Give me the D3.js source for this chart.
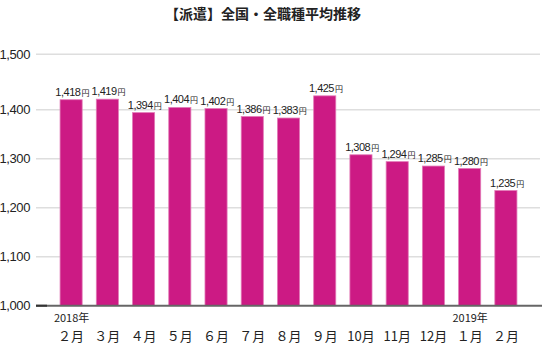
<!DOCTYPE html>
<html>
<head>
<meta charset="utf-8">
<script src="https://cdn.jsdelivr.net/npm/d3@7"></script>
<style>
  body { margin: 0; background: #fff; }
  text { font-family: "Liberation Sans", Arial, sans-serif; fill: #222; }
  .jp { font-family: "Noto Sans CJK JP", sans-serif; }
</style>
</head>
<body>
<div class="chart"></div>
<script>
// 【派遣】全国・全職種平均推移
var width = 542;
var height = 352;

var months = ['２月', '３月', '４月', '５月', '６月', '７月', '８月', '９月', '10月', '11月', '12月', '１月', '２月'];
var years = ['2018年', '', '', '', '', '', '', '', '', '', '', '2019年', ''];
var values = [1418, 1419, 1394, 1404, 1402, 1386, 1383, 1425, 1308, 1294, 1285, 1280, 1235];
var yTicks = [1000, 1100, 1200, 1300, 1400, 1500];

var data = months.map((m, i) => ({month: m, year: years[i], value: values[i], key: i}));

var x = d3.scaleBand()
  .domain(data.map(d => d.key))
  .range([53, 524])
  .paddingInner(0.39)
  .paddingOuter(0.195);

// top step of the axis is drawn a little taller than the others
var y = d3.scaleLinear()
  .domain([1000, 1400, 1500])
  .range([305.7, 109.7, 54.3]);

var svg = d3.select('.chart').append('svg')
  .attr('width', width)
  .attr('height', height);

svg.append('text')
  .attr('class', 'jp')
  .attr('x', 263)
  .attr('y', 19)
  .attr('text-anchor', 'middle')
  .style('font-size', '14px')
  .style('font-weight', 'bold')
  .text('【派遣】全国・全職種平均推移');

// grid
svg.append('g')
  .selectAll('line')
  .data(yTicks.slice(1))
  .enter().append('line')
  .attr('x1', 36)
  .attr('x2', 540)
  .attr('y1', d => y(d))
  .attr('y2', d => y(d))
  .attr('stroke', '#dedede')
  .attr('stroke-width', 1.5);

svg.append('g')
  .selectAll('text')
  .data(yTicks)
  .enter().append('text')
  .attr('x', 30)
  .attr('y', d => y(d))
  .attr('dy', '0.35em')
  .attr('text-anchor', 'end')
  .style('font-size', '13px')
  .style('letter-spacing', '-0.4px')
  .text(d => d3.format(',')(d));

// bars
svg.append('g')
  .selectAll('rect')
  .data(data)
  .enter().append('rect')
  .attr('x', d => x(d.key))
  .attr('y', d => y(d.value))
  .attr('width', x.bandwidth())
  .attr('height', d => y(1000) - y(d.value))
  .attr('fill', '#cc1a84')
  .attr('stroke', '#e27ab7')
  .attr('stroke-width', 0.8);

// baseline
svg.append('line')
  .attr('x1', 36).attr('x2', 542)
  .attr('y1', y(1000)).attr('y2', y(1000))
  .attr('stroke', '#666')
  .attr('stroke-width', 2);
svg.append('line')
  .attr('x1', 36).attr('x2', 47)
  .attr('y1', y(1000)).attr('y2', y(1000))
  .attr('stroke', '#333')
  .attr('stroke-width', 2);

// value labels
var labels = svg.append('g')
  .selectAll('text')
  .data(data)
  .enter().append('text')
  .attr('x', d => x(d.key) + x.bandwidth() / 2 + 1)
  .attr('y', d => y(d.value) - 4)
  .attr('text-anchor', 'middle')
  .style('font-size', '11px')
  .style('letter-spacing', '-0.5px');

labels.append('tspan')
  .text(d => d3.format(',')(d.value));
labels.append('tspan')
  .attr('class', 'jp')
  .attr('dx', 1)
  .style('font-size', '8px')
  .text('円');

// month labels
svg.append('g')
  .selectAll('text')
  .data(data)
  .enter().append('text')
  .attr('class', 'jp')
  .attr('x', d => x(d.key) + x.bandwidth() / 2)
  .attr('y', 341)
  .attr('text-anchor', 'middle')
  .style('font-size', '13px')
  .text(d => d.month);

svg.append('g')
  .selectAll('text')
  .data(data.filter(d => d.year))
  .enter().append('text')
  .attr('x', d => x(d.key) + x.bandwidth() / 2 + 0.5)
  .attr('y', 322)
  .attr('text-anchor', 'middle')
  .style('font-size', '11px')
  .style('font-family', '"Liberation Sans Narrow", "Noto Sans CJK JP", sans-serif')
  .text(d => d.year);

svg.node();
</script>
</body>
</html>
